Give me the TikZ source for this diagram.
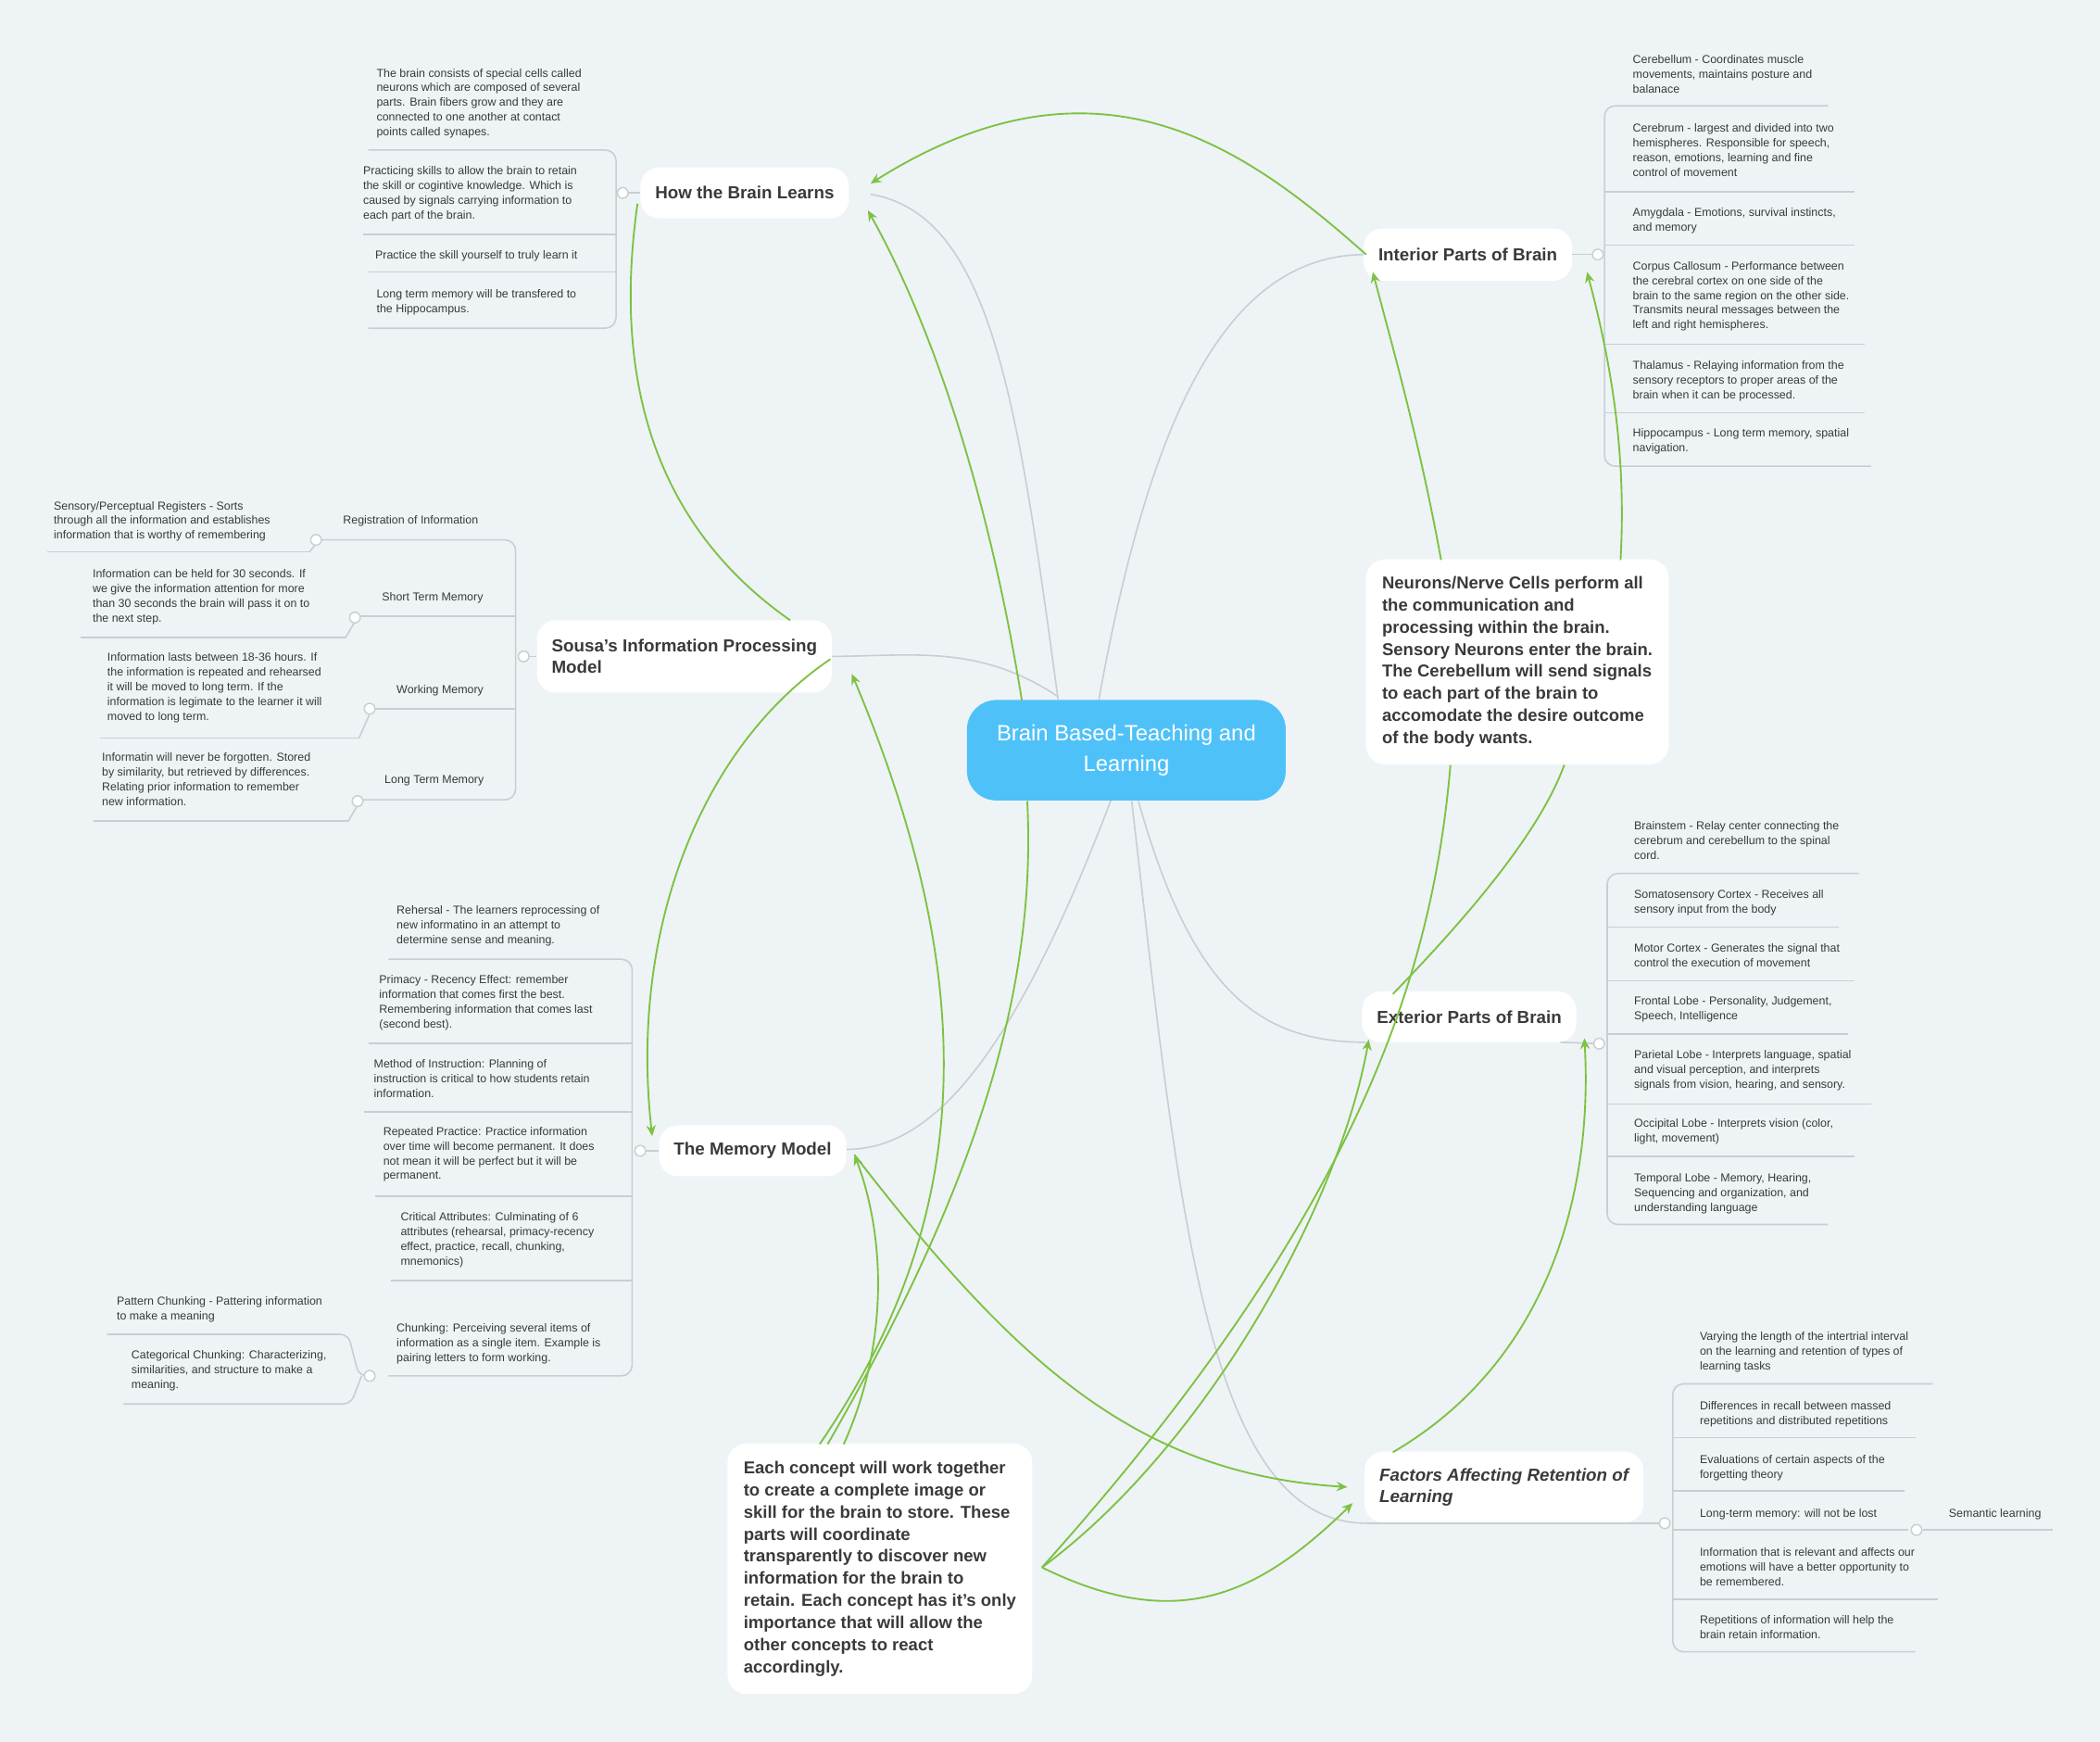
\documentclass[tikz,border=0pt]{standalone}
\usepackage{fontspec}
\setmainfont{Liberation Sans}
\usetikzlibrary{arrows.meta}
\definecolor{bg}{HTML}{EEF3F6}
\definecolor{cen}{HTML}{4FC1F9}
\definecolor{grn}{HTML}{7DC242}
\definecolor{gl}{HTML}{C9CED3}
\definecolor{tx}{HTML}{3A3A3A}
\tikzset{
 mainbox/.style={draw=none,fill=white,rounded corners=14pt,font=\fontsize{13}{16}\selectfont\bfseries,text=tx,inner xsep=11pt,inner ysep=0pt,align=left},
 leaftext/.style={anchor=north west,inner sep=0pt,align=left,font=\fontsize{8.6}{11}\selectfont,text=tx},
 gline/.style={gl,line width=1.1pt},
 garrow/.style={grn,line width=1.3pt,-{Stealth[length=8pt,width=7pt]}},
 gplain/.style={grn,line width=1.3pt},
 jdot/.style={circle,draw=gl,fill=white,line width=1pt,inner sep=0pt,minimum size=8pt},
}
\newcommand\lf[6]{\node[leaftext] at (#1,#2) {#6};\draw[gline] (#3,#5) -- (#4,#5);}
\begin{document}
\begin{tikzpicture}[x=1pt,y=-1pt]
\fill[bg] (0,0) rectangle (1568,1300);
\useasboundingbox (0,0) rectangle (1568,1300);
% gray branch connectors
\draw[gline] (790,522) .. controls (760,300) and (740,160) .. (650,145);
\draw[gline] (820,525) .. controls (860,300) and (920,190) .. (1020,190);
\draw[gline] (790,520) .. controls (730,480) and (680,490) .. (618,490);
\draw[gline] (830,596) .. controls (760,780) and (700,858) .. (632,858);
\draw[gline] (850,598) .. controls (890,740) and (940,778) .. (1020,778);
\draw[gline] (845,598) .. controls (880,900) and (900,1137) .. (1020,1137);
% central
\node[fill=cen,rounded corners=22pt,minimum width=238pt,minimum height=75pt,text=white,align=center,font=\fontsize{16.5}{23}\selectfont] (c) at (841,560) {Brain Based-Teaching and\\Learning};
% main nodes
\node[mainbox,minimum height=38pt] (hbl) at (556,144) {How the Brain Learns};
\node[mainbox,minimum height=54pt,minimum width=213pt] (sou) at (511,490) {Sousa's Information Processing\\Model};
\node[mainbox,minimum height=38pt] (mm) at (562,859) {The Memory Model};
\node[mainbox,minimum height=39pt] (int) at (1096,190) {Interior Parts of Brain};
\node[mainbox,minimum height=38pt] (ext) at (1097,759) {Exterior Parts of Brain};
\node[mainbox,minimum height=53pt,minimum width=206pt,font=\fontsize{13}{16}\selectfont\bfseries\itshape] (fac) at (1123,1110) {Factors Affecting Retention of\\Learning};
\node[mainbox,minimum width=222pt,minimum height=153pt,inner xsep=12pt,font=\fontsize{12.8}{16.5}\selectfont\bfseries] (neu) at (1133,494) {Neurons/Nerve Cells perform all\\the communication and\\processing within the brain.\\Sensory Neurons enter the brain.\\The Cerebellum will send signals\\to each part of the brain to\\accomodate the desire outcome\\of the body wants.};
\node[mainbox,minimum width=222pt,minimum height=187pt,inner xsep=12pt,font=\fontsize{12.8}{16.5}\selectfont\bfseries] (eac) at (657,1171) {Each concept will work together\\to create a complete image or\\skill for the brain to store. These\\parts will coordinate\\transparently to discover new\\information for the brain to\\retain. Each concept has it's only\\importance that will allow the\\other concepts to react\\accordingly.};
% How the brain learns leaves
\draw[gline,rounded corners=8pt] (275,112) -- (460,112) -- (460,245) -- (275,245);
\draw[gline] (460,175) -- (271,175); \draw[gline] (460,203)--(275,203);
\draw[gline] (465,144) -- (hbl.west);
\node[jdot] (j1) at (465,144) {};
\lf{281}{51}{275}{275}{112}{The brain consists of special cells called\\neurons which are composed of several\\parts. Brain fibers grow and they are\\connected to one another at contact\\points called synapes.}
\lf{271}{124}{271}{271}{175}{Practicing skills to allow the brain to retain\\the skill or cogintive knowledge. Which is\\caused by signals carrying information to\\each part of the brain.}
\lf{280}{187}{280}{280}{203}{Practice the skill yourself to truly learn it}
\lf{281}{216}{281}{281}{245}{Long term memory will be transfered to\\the Hippocampus.}
% Sousa leaves
\draw[gline,rounded corners=8pt] (236,403) -- (385,403) -- (385,597) -- (267,597);
\draw[gline] (265,460) -- (385,460); \draw[gline] (276,529) -- (385,529);
\draw[gline] (391,490) -- (sou.west);
\node[jdot] at (391,490) {};
\node[leaftext] at (256,385) {Registration of Information};
\node[leaftext] at (285,442) {Short Term Memory};
\node[leaftext] at (296,511) {Working Memory};
\node[leaftext] at (287,579) {Long Term Memory};
\lf{40}{374}{35}{231}{412}{Sensory/Perceptual Registers - Sorts\\through all the information and establishes\\information that is worthy of remembering}
\lf{69}{425}{60}{258}{476}{Information can be held for 30 seconds. If\\we give the information attention for more\\than 30 seconds the brain will pass it on to\\the next step.}
\lf{80}{487}{75}{268}{551}{Information lasts between 18-36 hours. If\\the information is repeated and rehearsed\\it will be moved to long term. If the\\information is legimate to the learner it will\\moved to long term.}
\lf{76}{562}{70}{260}{613}{Informatin will never be forgotten. Stored\\by similarity, but retrieved by differences.\\Relating prior information to remember\\new information.}
\draw[gline] (231,412) -- (236,406); \draw[gline] (258,476) -- (265,464); \draw[gline] (268,551) -- (276,533); \draw[gline] (260,613) -- (267,601);
\node[jdot] at (236,403) {}; \node[jdot] at (265,461) {}; \node[jdot] at (276,529) {}; \node[jdot] at (267,598) {};
% Memory model leaves
\draw[gline,rounded corners=8pt] (290,716) -- (472,716) -- (472,1027) -- (290,1027);
\draw[gline] (275,779)--(472,779); \draw[gline] (272,830)--(472,830); \draw[gline] (280,893)--(472,893); \draw[gline] (292,956)--(472,956);
\draw[gline] (478,859) -- (mm.west);
\node[jdot] at (478,859) {};
\node[leaftext] at (296,676) {Rehersal - The learners reprocessing of\\new informatino in an attempt to\\determine sense and meaning.};
\node[leaftext] at (283,728) {Primacy - Recency Effect: remember\\information that comes first the best.\\Remembering information that comes last\\(second best).};
\node[leaftext] at (279,791) {Method of Instruction: Planning of\\instruction is critical to how students retain\\information.};
\node[leaftext] at (286,841) {Repeated Practice: Practice information\\over time will become permanent. It does\\not mean it will be perfect but it will be\\permanent.};
\node[leaftext] at (299,905) {Critical Attributes: Culminating of 6\\attributes (rehearsal, primacy-recency\\effect, practice, recall, chunking,\\mnemonics)};
\node[leaftext] at (296,988) {Chunking: Perceiving several items of\\information as a single item. Example is\\pairing letters to form working.};
\draw[gline,rounded corners=6pt] (80,996) -- (260,996) -- (268,1027) -- (276,1027);
\draw[gline,rounded corners=6pt] (92,1048) -- (262,1048) -- (270,1027);
\node[jdot] at (276,1027) {};
\node[leaftext] at (87,968) {Pattern Chunking - Pattering information\\to make a meaning};
\node[leaftext] at (98,1008) {Categorical Chunking: Characterizing,\\similarities, and structure to make a\\meaning.};
% Interior leaves
\draw[gline,rounded corners=8pt] (1365,79) -- (1198,79) -- (1198,348) -- (1397,348);
\draw[gline] (1198,143)--(1385,143); \draw[gline] (1198,183)--(1385,183); \draw[gline] (1198,257)--(1392,257); \draw[gline] (1198,308)--(1392,308);
\draw[gline] (int.east) -- (1193,190);
\node[jdot] at (1193,190) {};
\node[leaftext] at (1219,41) {Cerebellum - Coordinates muscle\\movements, maintains posture and\\balanace};
\node[leaftext] at (1219,92) {Cerebrum - largest and divided into two\\hemispheres. Responsible for speech,\\reason, emotions, learning and fine\\control of movement};
\node[leaftext] at (1219,155) {Amygdala - Emotions, survival instincts,\\and memory};
\node[leaftext] at (1219,195) {Corpus Callosum - Performance between\\the cerebral cortex on one side of the\\brain to the same region on the other side.\\Transmits neural messages between the\\left and right hemispheres.};
\node[leaftext] at (1219,269) {Thalamus - Relaying information from the\\sensory receptors to proper areas of the\\brain when it can be processed.};
\node[leaftext] at (1219,320) {Hippocampus - Long term memory, spatial\\navigation.};
% Exterior leaves
\draw[gline,rounded corners=8pt] (1388,652) -- (1200,652) -- (1200,914) -- (1365,914);
\draw[gline] (1200,692)--(1373,692); \draw[gline] (1200,732)--(1385,732); \draw[gline] (1200,772)--(1380,772); \draw[gline] (1200,824)--(1397,824); \draw[gline] (1200,863)--(1385,863);
\draw[gline] (1165,778) -- (1194,779);
\node[jdot] at (1194,779) {};
\node[leaftext] at (1220,613) {Brainstem - Relay center connecting the\\cerebrum and cerebellum to the spinal\\cord.};
\node[leaftext] at (1220,664) {Somatosensory Cortex - Receives all\\sensory input from the body};
\node[leaftext] at (1220,704) {Motor Cortex - Generates the signal that\\control the execution of movement};
\node[leaftext] at (1220,744) {Frontal Lobe - Personality, Judgement,\\Speech, Intelligence};
\node[leaftext] at (1220,784) {Parietal Lobe - Interprets language, spatial\\and visual perception, and interprets\\signals from vision, hearing, and sensory.};
\node[leaftext] at (1220,835) {Occipital Lobe - Interprets vision (color,\\light, movement)};
\node[leaftext] at (1220,876) {Temporal Lobe - Memory, Hearing,\\Sequencing and organization, and\\understanding language};
% Factors leaves
\draw[gline,rounded corners=8pt] (1443,1033) -- (1249,1033) -- (1249,1233) -- (1430,1233);
\draw[gline] (1249,1073)--(1430,1073); \draw[gline] (1249,1113)--(1422,1113); \draw[gline] (1249,1142)--(1425,1142); \draw[gline] (1249,1194)--(1447,1194);
\draw[gline] (1020,1137) -- (1243,1137);
\node[jdot] at (1243,1137) {};
\node[leaftext] at (1269,994) {Varying the length of the intertrial interval\\on the learning and retention of types of\\learning tasks};
\node[leaftext] at (1269,1046) {Differences in recall between massed\\repetitions and distributed repetitions};
\node[leaftext] at (1269,1086) {Evaluations of certain aspects of the\\forgetting theory};
\node[leaftext] at (1269,1126) {Long-term memory: will not be lost};
\draw[gline] (1436,1142) -- (1533,1142);
\node[jdot] at (1431,1142) {};
\node[leaftext] at (1455,1126) {Semantic learning};
\node[leaftext] at (1269,1155) {Information that is relevant and affects our\\emotions will have a better opportunity to\\be remembered.};
\node[leaftext] at (1269,1206) {Repetitions of information will help the\\brain retain information.};
% green relations
\draw[garrow] (1020,190) .. controls (930,110) and (820,30) .. (650,137);
\draw[garrow] (763,523) .. controls (740,380) and (700,250) .. (648,157);
\draw[gplain] (590,463) .. controls (500,400) and (455,300) .. (476,152);
\draw[garrow] (620,492) .. controls (520,560) and (470,700) .. (487,848);
\draw[garrow] (612,1078) .. controls (720,920) and (740,750) .. (636,503);
\draw[gplain] (618,1078) .. controls (720,900) and (775,750) .. (767,598);
\draw[garrow] (630,1078) .. controls (665,1000) and (660,920) .. (638,862);
\draw[garrow] (638,862) .. controls (760,1020) and (850,1100) .. (1006,1110);
\draw[garrow] (1076,418) .. controls (1060,330) and (1040,260) .. (1025,203);
\draw[garrow] (1210,418) .. controls (1215,330) and (1200,260) .. (1185,203);
\draw[gplain] (1083,571) .. controls (1070,720) and (1020,900) .. (778,1170);
\draw[gplain] (1040,742) .. controls (1100,680) and (1150,620) .. (1168,571);
\draw[garrow] (778,1170) .. controls (900,1080) and (1000,900) .. (1022,776);
\draw[garrow] (1040,1084) .. controls (1150,1020) and (1190,900) .. (1183,775);
\draw[garrow] (778,1170) .. controls (880,1220) and (940,1190) .. (1010,1122);
\end{tikzpicture}
\end{document}
